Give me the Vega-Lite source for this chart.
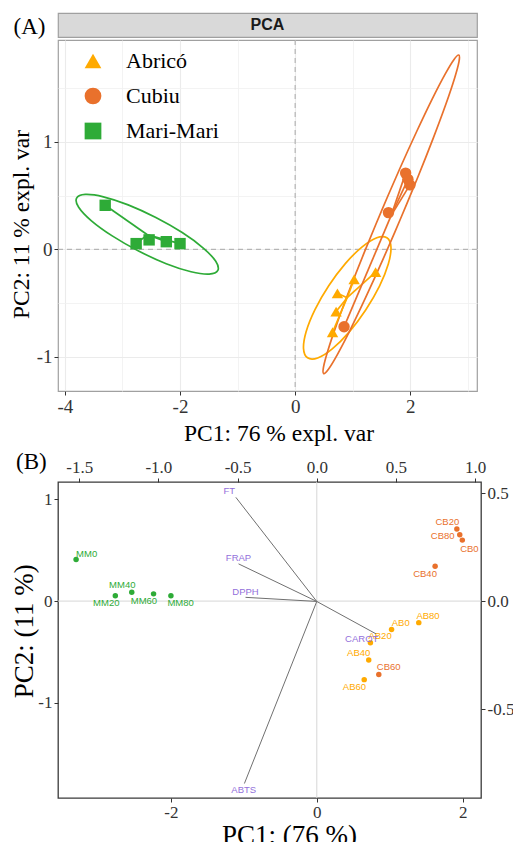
{
  "$schema": "https://vega.github.io/schema/vega-lite/v6.json",
  "background": "white",
  "padding": {"left": 8, "top": 12, "right": 0, "bottom": 0},
  "spacing": -5,
  "resolve": {"scale": {"color": "independent", "shape": "independent"}, "legend": {"color": "independent", "shape": "independent"}},
  "datasets": {
    "scores": [
      {"id": "AB0", "group": "Abricó", "x": 1.025, "y": -0.28, "lx": 1.151, "ly": -0.216},
      {"id": "AB20", "group": "Abricó", "x": 0.735, "y": -0.41, "lx": 0.867, "ly": -0.347},
      {"id": "AB40", "group": "Abricó", "x": 0.712, "y": -0.58, "lx": 0.575, "ly": -0.515},
      {"id": "AB60", "group": "Abricó", "x": 0.65, "y": -0.773, "lx": 0.516, "ly": -0.849},
      {"id": "AB80", "group": "Abricó", "x": 1.398, "y": -0.212, "lx": 1.525, "ly": -0.151},
      {"id": "CB0", "group": "Cubiu", "x": 1.995, "y": 0.6, "lx": 2.092, "ly": 0.513},
      {"id": "CB20", "group": "Cubiu", "x": 1.92, "y": 0.71, "lx": 1.79, "ly": 0.779},
      {"id": "CB40", "group": "Cubiu", "x": 1.622, "y": 0.342, "lx": 1.484, "ly": 0.267},
      {"id": "CB60", "group": "Cubiu", "x": 0.85, "y": -0.722, "lx": 0.986, "ly": -0.653},
      {"id": "CB80", "group": "Cubiu", "x": 1.96, "y": 0.652, "lx": 1.726, "ly": 0.637},
      {"id": "MM0", "group": "Mari-Mari", "x": -3.3, "y": 0.41, "lx": -3.155, "ly": 0.464},
      {"id": "MM20", "group": "Mari-Mari", "x": -2.762, "y": 0.053, "lx": -2.886, "ly": -0.019},
      {"id": "MM40", "group": "Mari-Mari", "x": -2.537, "y": 0.088, "lx": -2.667, "ly": 0.155},
      {"id": "MM60", "group": "Mari-Mari", "x": -2.238, "y": 0.071, "lx": -2.37, "ly": -0.003},
      {"id": "MM80", "group": "Mari-Mari", "x": -2.0, "y": 0.053, "lx": -1.867, "ly": -0.016}
    ],
    "ellipses": [
      {"group": "Mari-Mari", "i": 0, "ex": -1.343, "ey": -0.197},
      {"group": "Mari-Mari", "i": 1, "ex": -1.494, "ey": -0.231},
      {"group": "Mari-Mari", "i": 2, "ex": -1.809, "ey": -0.209},
      {"group": "Mari-Mari", "i": 3, "ex": -2.24, "ey": -0.134},
      {"group": "Mari-Mari", "i": 4, "ex": -2.72, "ey": -0.016},
      {"group": "Mari-Mari", "i": 5, "ex": -3.178, "ey": 0.125},
      {"group": "Mari-Mari", "i": 6, "ex": -3.544, "ey": 0.268},
      {"group": "Mari-Mari", "i": 7, "ex": -3.761, "ey": 0.392},
      {"group": "Mari-Mari", "i": 8, "ex": -3.797, "ey": 0.477},
      {"group": "Mari-Mari", "i": 9, "ex": -3.646, "ey": 0.511},
      {"group": "Mari-Mari", "i": 10, "ex": -3.331, "ey": 0.489},
      {"group": "Mari-Mari", "i": 11, "ex": -2.901, "ey": 0.414},
      {"group": "Mari-Mari", "i": 12, "ex": -2.42, "ey": 0.296},
      {"group": "Mari-Mari", "i": 13, "ex": -1.962, "ey": 0.156},
      {"group": "Mari-Mari", "i": 14, "ex": -1.596, "ey": 0.012},
      {"group": "Mari-Mari", "i": 15, "ex": -1.379, "ey": -0.112},
      {"group": "Abricó", "i": 0, "ex": 1.594, "ey": 0.107},
      {"group": "Abricó", "i": 1, "ex": 1.665, "ey": 0.021},
      {"group": "Abricó", "i": 2, "ex": 1.619, "ey": -0.137},
      {"group": "Abricó", "i": 3, "ex": 1.466, "ey": -0.343},
      {"group": "Abricó", "i": 4, "ex": 1.226, "ey": -0.565},
      {"group": "Abricó", "i": 5, "ex": 0.938, "ey": -0.771},
      {"group": "Abricó", "i": 6, "ex": 0.645, "ey": -0.927},
      {"group": "Abricó", "i": 7, "ex": 0.392, "ey": -1.012},
      {"group": "Abricó", "i": 8, "ex": 0.216, "ey": -1.011},
      {"group": "Abricó", "i": 9, "ex": 0.146, "ey": -0.925},
      {"group": "Abricó", "i": 10, "ex": 0.191, "ey": -0.767},
      {"group": "Abricó", "i": 11, "ex": 0.345, "ey": -0.561},
      {"group": "Abricó", "i": 12, "ex": 0.584, "ey": -0.339},
      {"group": "Abricó", "i": 13, "ex": 0.872, "ey": -0.133},
      {"group": "Abricó", "i": 14, "ex": 1.165, "ey": 0.023},
      {"group": "Abricó", "i": 15, "ex": 1.419, "ey": 0.108},
      {"group": "Cubiu", "i": 0, "ex": 2.844, "ey": 1.81},
      {"group": "Cubiu", "i": 1, "ex": 2.847, "ey": 1.749},
      {"group": "Cubiu", "i": 2, "ex": 2.769, "ey": 1.592},
      {"group": "Cubiu", "i": 3, "ex": 2.617, "ey": 1.349},
      {"group": "Cubiu", "i": 4, "ex": 2.4, "ey": 1.036},
      {"group": "Cubiu", "i": 5, "ex": 2.133, "ey": 0.674},
      {"group": "Cubiu", "i": 6, "ex": 1.835, "ey": 0.289},
      {"group": "Cubiu", "i": 7, "ex": 1.526, "ey": -0.094},
      {"group": "Cubiu", "i": 8, "ex": 1.226, "ey": -0.448},
      {"group": "Cubiu", "i": 9, "ex": 0.957, "ey": -0.75},
      {"group": "Cubiu", "i": 10, "ex": 0.736, "ey": -0.978},
      {"group": "Cubiu", "i": 11, "ex": 0.579, "ey": -1.117},
      {"group": "Cubiu", "i": 12, "ex": 0.496, "ey": -1.158},
      {"group": "Cubiu", "i": 13, "ex": 0.493, "ey": -1.097},
      {"group": "Cubiu", "i": 14, "ex": 0.571, "ey": -0.94},
      {"group": "Cubiu", "i": 15, "ex": 0.723, "ey": -0.697},
      {"group": "Cubiu", "i": 16, "ex": 0.94, "ey": -0.384},
      {"group": "Cubiu", "i": 17, "ex": 1.207, "ey": -0.022},
      {"group": "Cubiu", "i": 18, "ex": 1.505, "ey": 0.363},
      {"group": "Cubiu", "i": 19, "ex": 1.814, "ey": 0.746},
      {"group": "Cubiu", "i": 20, "ex": 2.114, "ey": 1.1},
      {"group": "Cubiu", "i": 21, "ex": 2.383, "ey": 1.402},
      {"group": "Cubiu", "i": 22, "ex": 2.604, "ey": 1.63},
      {"group": "Cubiu", "i": 23, "ex": 2.761, "ey": 1.769}
    ],
    "loadings": [
      {"var": "FT", "x": -0.511, "y": 0.482, "lx": -0.553, "ly": 0.513},
      {"var": "FRAP", "x": -0.494, "y": 0.174, "lx": -0.494, "ly": 0.202},
      {"var": "DPPH", "x": -0.45, "y": 0.019, "lx": -0.45, "ly": 0.045},
      {"var": "ABTS", "x": -0.457, "y": -0.843, "lx": -0.461, "ly": -0.872},
      {"var": "CAROT", "x": 0.374, "y": -0.15, "lx": 0.284, "ly": -0.174}
    ]
  },
  "vconcat": [
    {
      "width": 419,
      "height": 24,
      "data": {"values": [{"label": "PCA"}]},
      "view": {"fill": "#D9D9D9", "stroke": "#A0A0A0", "strokeWidth": 1.2},
      "mark": {"type": "text", "font": "Liberation Sans", "fontWeight": "bold", "fontSize": 16, "color": "#1A1A1A", "baseline": "middle"},
      "encoding": {
        "text": {"field": "label", "type": "nominal"},
        "y": {"field": "label", "type": "nominal", "axis": {"labels": false, "ticks": false, "domain": false, "grid": false, "title": "(A)", "titleAngle": 0, "titleX": -13, "titleY": 13.5, "titleAlign": "right", "titleBaseline": "middle", "titleFontSize": 23, "titleFont": "Liberation Serif", "titleFontWeight": "normal", "titleColor": "#000000"}}
      }
    },
    {
      "width": 419,
      "height": 351,
      "view": {"stroke": "#A0A0A0", "strokeWidth": 1.2},
      "resolve": {"axis": {"x": "independent", "y": "independent"}, "legend": {"color": "independent", "shape": "independent"}},
      "layer": [
        {
          "data": {"values": [{"z": 0}]},
          "mark": {"type": "rule", "strokeDash": [5, 4], "color": "#A8A8A8", "strokeWidth": 1},
          "encoding": {
            "x": {"datum": 0, "type": "quantitative", "scale": {"domain": [-4.12, 3.16], "nice": false, "zero": false},
              "axis": {"orient": "bottom", "values": [-3, -1, 1, 3], "grid": true, "gridColor": "#F0F0F0", "gridWidth": 0.8, "labels": false, "ticks": false, "domain": false, "title": null}}
          }
        },
        {
          "data": {"values": [{"z": 0}]},
          "mark": {"type": "rule", "strokeDash": [5, 4], "color": "#A8A8A8", "strokeWidth": 1},
          "encoding": {
            "y": {"datum": 0, "type": "quantitative", "scale": {"domain": [-1.32, 1.95], "nice": false, "zero": false},
              "axis": {"orient": "left", "values": [-0.5, 0.5, 1.5], "grid": true, "gridColor": "#F0F0F0", "gridWidth": 0.8, "labels": false, "ticks": false, "domain": false, "title": null}}
          }
        },
        {
          "data": {"name": "ellipses"},
          "mark": {"type": "line", "interpolate": "cardinal-closed", "strokeWidth": 1.7},
          "encoding": {
            "x": {"field": "ex", "type": "quantitative", "scale": {"domain": [-4.12, 3.16], "nice": false, "zero": false}, "axis": null},
            "y": {"field": "ey", "type": "quantitative", "scale": {"domain": [-1.32, 1.95], "nice": false, "zero": false}, "axis": null},
            "order": {"field": "i", "type": "quantitative"},
            "color": {"field": "group", "type": "nominal", "scale": {"domain": ["Abricó", "Cubiu", "Mari-Mari"], "range": ["#FFAA00", "#E9712C", "#2EAB37"]}, "legend": null}
          }
        },
        {
          "data": {"name": "scores"},
          "transform": [{"joinaggregate": [{"op": "mean", "field": "x", "as": "cx"}, {"op": "mean", "field": "y", "as": "cy"}], "groupby": ["group"]}],
          "mark": {"type": "rule", "strokeWidth": 1.7},
          "encoding": {
            "x": {"field": "cx", "type": "quantitative", "scale": {"domain": [-4.12, 3.16], "nice": false, "zero": false}, "axis": null},
            "y": {"field": "cy", "type": "quantitative", "scale": {"domain": [-1.32, 1.95], "nice": false, "zero": false}, "axis": null},
            "x2": {"field": "x"},
            "y2": {"field": "y"},
            "color": {"field": "group", "type": "nominal", "scale": {"domain": ["Abricó", "Cubiu", "Mari-Mari"], "range": ["#FFAA00", "#E9712C", "#2EAB37"]}, "legend": null}
          }
        },
        {
          "data": {"name": "scores"},
          "mark": {"type": "point", "filled": true, "size": 130, "opacity": 1},
          "encoding": {
            "x": {"field": "x", "type": "quantitative", "scale": {"domain": [-4.12, 3.16], "nice": false, "zero": false},
              "axis": {"orient": "bottom", "values": [-4, -2, 0, 2], "format": "d", "grid": true, "gridColor": "#EBEBEB", "gridWidth": 1.1, "domain": false, "ticks": true, "tickSize": 4, "tickColor": "#333333", "labelFontSize": 19, "labelPadding": 2, "labelFlush": false, "title": ["PC1: 76 % expl. var", ""], "titleFontSize": 23.5, "titleLineHeight": 8, "titleX": 220.5, "titleY": 30, "titleBaseline": "top", "titleAlign": "center"}},
            "y": {"field": "y", "type": "quantitative", "scale": {"domain": [-1.32, 1.95], "nice": false, "zero": false},
              "axis": {"orient": "left", "values": [-1, 0, 1], "format": "d", "grid": true, "gridColor": "#EBEBEB", "gridWidth": 1.1, "domain": false, "ticks": true, "tickSize": 4, "tickColor": "#333333", "labelFontSize": 19, "labelPadding": 2, "labelFlush": false, "title": "PC2: 11 % expl. var", "titleFontSize": 23.5, "titleX": -36.5, "titleY": 184, "titleBaseline": "middle", "titleAlign": "center"}},
            "color": {"field": "group", "type": "nominal", "scale": {"domain": ["Abricó", "Cubiu", "Mari-Mari"], "range": ["#FFAA00", "#E9712C", "#2EAB37"]},
              "legend": {"orient": "none", "legendX": 24, "legendY": 10, "title": null, "padding": 0, "labelFont": "Liberation Serif", "labelFontSize": 22, "labelColor": "#000000", "symbolSize": 280, "rowPadding": 13, "labelOffset": 22, "symbolStrokeWidth": 0}},
            "shape": {"field": "group", "type": "nominal", "scale": {"domain": ["Abricó", "Cubiu", "Mari-Mari"], "range": ["triangle-up", "circle", "square"]},
              "legend": {"orient": "none", "legendX": 24, "legendY": 10, "title": null, "padding": 0, "labelFont": "Liberation Serif", "labelFontSize": 22, "labelColor": "#000000", "symbolSize": 280, "rowPadding": 13, "labelOffset": 22, "symbolStrokeWidth": 0}}
          }
        }
      ]
    },
    {
      "width": 423,
      "height": 316,
      "view": {"stroke": "#3A3A3A", "strokeWidth": 1.3},
      "resolve": {"scale": {"x": "independent", "y": "independent"}, "axis": {"x": "independent", "y": "independent"}},
      "layer": [
        {
          "data": {"values": [{"z": 0}]},
          "mark": {"type": "rule", "color": "#D6D6D6", "strokeWidth": 1},
          "encoding": {
            "x": {"datum": 0, "type": "quantitative", "scale": {"domain": [-3.548, 2.251], "nice": false, "zero": false},
              "axis": {"orient": "bottom", "values": [-2, 0, 2], "format": "d", "grid": false, "domain": false, "ticks": true, "tickSize": 4, "tickColor": "#333333", "labelFontSize": 17, "labelPadding": 2, "labelFlush": false, "title": "PC1: (76 %)", "titleFontSize": 27, "titleX": 231, "titleY": 37, "titleBaseline": "middle", "titleAlign": "center"}}
          }
        },
        {
          "data": {"values": [{"z": 0}]},
          "mark": {"type": "rule", "color": "#D6D6D6", "strokeWidth": 1},
          "encoding": {
            "y": {"datum": 0, "type": "quantitative", "scale": {"domain": [-1.938, 1.172], "nice": false, "zero": false},
              "axis": {"orient": "left", "values": [-1, 0, 1], "format": "d", "grid": false, "domain": false, "ticks": true, "tickSize": 4, "tickColor": "#333333", "labelFontSize": 17, "labelPadding": 2, "labelFlush": false, "title": "PC2: (11 %)", "titleFontSize": 27, "titleX": -33.5, "titleY": 148.7, "titleBaseline": "middle", "titleAlign": "center"}}
          }
        },
        {
          "data": {"name": "scores"},
          "mark": {"type": "circle", "size": 30, "opacity": 1},
          "encoding": {
            "x": {"field": "x", "type": "quantitative", "scale": {"domain": [-3.548, 2.251], "nice": false, "zero": false}, "axis": null},
            "y": {"field": "y", "type": "quantitative", "scale": {"domain": [-1.938, 1.172], "nice": false, "zero": false}, "axis": null},
            "color": {"field": "group", "type": "nominal", "scale": {"domain": ["Abricó", "Cubiu", "Mari-Mari"], "range": ["#FFAA00", "#E9712C", "#2EAB37"]}, "legend": null}
          }
        },
        {
          "data": {"name": "scores"},
          "mark": {"type": "text", "font": "Liberation Sans", "fontSize": 9.5, "baseline": "middle"},
          "encoding": {
            "x": {"field": "lx", "type": "quantitative", "scale": {"domain": [-3.548, 2.251], "nice": false, "zero": false}, "axis": null},
            "y": {"field": "ly", "type": "quantitative", "scale": {"domain": [-1.938, 1.172], "nice": false, "zero": false}, "axis": null},
            "text": {"field": "id", "type": "nominal"},
            "color": {"field": "group", "type": "nominal", "scale": {"domain": ["Abricó", "Cubiu", "Mari-Mari"], "range": ["#FFAA00", "#E9712C", "#2EAB37"]}, "legend": null}
          }
        },
        {
          "data": {"name": "loadings"},
          "mark": {"type": "rule", "color": "#707070", "strokeWidth": 1},
          "encoding": {
            "x": {"field": "x", "type": "quantitative", "scale": {"domain": [-1.634, 1.037], "nice": false, "zero": false},
              "axis": {"orient": "top", "values": [-1.5, -1, -0.5, 0, 0.5, 1], "format": ".1f", "grid": false, "domain": false, "ticks": true, "tickSize": 4, "tickColor": "#333333", "labelFontSize": 17, "labelPadding": 2, "labelFlush": false, "title": "(B)", "titleAngle": 0, "titleX": -42.5, "titleY": -13.8, "titleAlign": "left", "titleBaseline": "alphabetic", "titleFontSize": 23}},
            "y": {"field": "y", "type": "quantitative", "scale": {"domain": [-0.91, 0.553], "nice": false, "zero": false},
              "axis": {"orient": "right", "values": [-0.5, 0, 0.5], "format": ".1f", "grid": false, "domain": false, "ticks": true, "tickSize": 4, "tickColor": "#333333", "labelFontSize": 17, "labelPadding": 2, "labelFlush": false, "title": null}},
            "x2": {"datum": 0},
            "y2": {"datum": 0}
          }
        },
        {
          "data": {"name": "loadings"},
          "mark": {"type": "text", "font": "Liberation Sans", "fontSize": 9.5, "baseline": "middle", "color": "#9370DB"},
          "encoding": {
            "x": {"field": "lx", "type": "quantitative", "scale": {"domain": [-1.634, 1.037], "nice": false, "zero": false}, "axis": null},
            "y": {"field": "ly", "type": "quantitative", "scale": {"domain": [-0.91, 0.553], "nice": false, "zero": false}, "axis": null},
            "text": {"field": "var", "type": "nominal"}
          }
        }
      ]
    }
  ],
  "config": {
    "locale": {"number": {"decimal": ".", "thousands": ",", "grouping": [3], "currency": ["$", ""], "minus": "-"}},
    "axis": {"labelFont": "Liberation Serif", "titleFont": "Liberation Serif", "titleFontWeight": "normal", "labelColor": "#333333", "titleColor": "#000000"},
    "legend": {"labelFont": "Liberation Serif"}
  }
}
